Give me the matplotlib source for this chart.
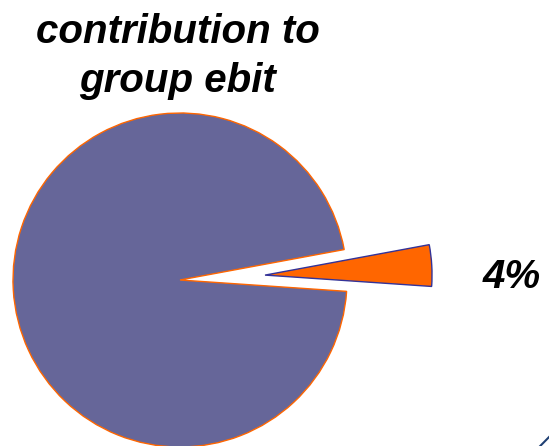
import matplotlib.pyplot as plt
from matplotlib.lines import Line2D

# data
labels = ["4%", ""]
shares = [4, 96]
colors = ["#FF6600", "#666699"]
edges = ["#333399", "#FF6600"]
explode = [0.51, 0]
title_lines = ["contribution to", "group ebit"]

plt.rcParams['font.family'] = ['Liberation Sans', 'DejaVu Sans']

fig = plt.figure(figsize=(5.49, 4.46), dpi=100)
ax = fig.add_axes([0, 0, 1, 1])

wedges, _ = ax.pie(shares, colors=colors, explode=explode, startangle=-3.9,
                   counterclock=True, radius=1.0)
for w, ec in zip(wedges, edges):
    w.set_edgecolor(ec)
    w.set_linewidth(1.0)

ax.set_xlim(-180/167, (549-180)/167)
ax.set_ylim(-166/167, 280/167)
ax.axis('off')

# titel, twee regels
for regel, y in zip(title_lines, [1.419, 1.126]):
    ax.text(-0.015, y, regel, ha='center', va='baseline',
            fontsize=29, fontweight='bold', fontstyle='italic')
# label van het kleine stuk
ax.text(1.985, 0.018, labels[0], ha='center', va='center',
        fontsize=29, fontweight='bold', fontstyle='italic')

# stukje lijn rechtsonder
fig.add_artist(Line2D([0.984, 1.0], [0.0, 0.02], color="#1F3F73", lw=1.5))

fig.savefig("out.png", dpi=100)
